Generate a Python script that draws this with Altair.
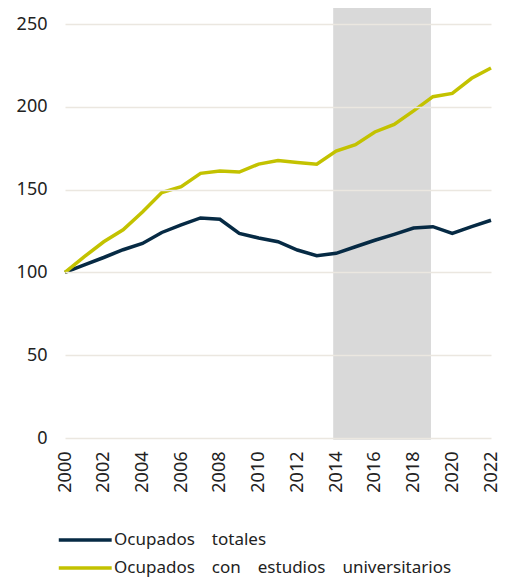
import altair as alt
import pandas as pd

years = list(range(2000, 2023))
ocupados_totales = [100, 104.6, 109, 113.7, 117.5, 124.1, 128.7, 132.9, 132.1, 123.5,
                    120.8, 118.5, 113.5, 110.1, 111.5, 115.5, 119.4, 123.0, 126.8, 127.6,
                    123.6, 127.6, 131.5]
ocupados_univ = [100, 109.5, 118.5, 125.7, 136.5, 148.2, 151.8, 159.8, 161.2, 160.6,
                 165.4, 167.5, 166.3, 165.3, 173.3, 177.1, 184.8, 189.4, 197.5, 206.1,
                 208.1, 217.2, 223.4]
series_names = ["Ocupados totales", "Ocupados con estudios universitarios"]
series_colors = ["#062a44", "#c3c200"]

band_start = [2013.85]
band_end = [2018.9]
band_low = [-1]
band_high = [263]

FONT = "Noto Sans"

df = pd.DataFrame({
    "year": years * 2,
    "value": ocupados_totales + ocupados_univ,
    "serie": [series_names[0]] * len(years) + [series_names[1]] * len(years),
})
band_df = pd.DataFrame({"x": band_start, "x2": band_end, "y": band_low, "y2": band_high})

xscale = alt.Scale(domain=[2000, 2022], nice=False, zero=False)
yscale = alt.Scale(domain=[0, 250], nice=False)
xaxis = alt.Axis(values=list(range(2000, 2023, 2)), format="d", labelAngle=-90,
                 grid=False, domain=False, ticks=False, labelPadding=13,
                 labelFontSize=18, labelFont=FONT, labelColor="#222222", title=None)
yaxis = alt.Axis(values=[0, 50, 100, 150, 200, 250], grid=True, gridColor="#ebe7e0",
                 gridWidth=1.5, domain=False, ticks=False, labelPadding=18,
                 labelFontSize=18, labelFont=FONT, labelColor="#222222",
                 title=None, zindex=1)

band = alt.Chart(band_df).mark_rect(color="#d9d9d9").encode(
    x=alt.X("x:Q", scale=xscale, axis=xaxis), x2="x2:Q",
    y=alt.Y("y:Q", scale=yscale, axis=yaxis), y2="y2:Q"
)

lines = alt.Chart(df).mark_line(strokeWidth=3.5).encode(
    x=alt.X("year:Q", scale=xscale, axis=xaxis),
    y=alt.Y("value:Q", scale=yscale, axis=yaxis),
    color=alt.Color("serie:N", scale=alt.Scale(domain=series_names, range=series_colors),
                    sort=series_names,
                    legend=alt.Legend(title=None, orient="none", legendX=-8, legendY=501,
                                      symbolType="M-1,0H3", symbolSize=700, symbolStrokeWidth=3.5,
                                      labelFontSize=17, labelFont=FONT, labelColor="#222222",
                                      labelExpr="replace(datum.label, regexp(' ', 'g'), '\u2003')",
                                      labelLimit=450, rowPadding=5, labelOffset=27)),
)

chart = alt.layer(band, lines).properties(
    width=426, height=414,
    autosize=alt.AutoSizeParams(type="none"),
    padding={"left": 57, "top": 16, "right": 9, "bottom": 139},
).configure_view(stroke=None)

chart.save("out.html", embed_options={"renderer": "svg", "actions": False})
